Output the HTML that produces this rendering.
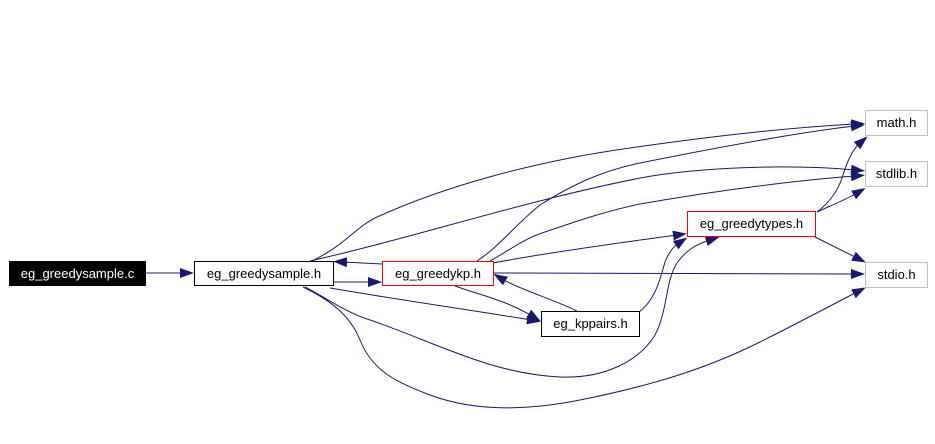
<!DOCTYPE html>
<html><head><meta charset="utf-8"><style>
html,body{margin:0;padding:0;background:#fff;}
svg{display:block;}
text{font-family:"Liberation Sans",Arial,sans-serif;font-size:13px;}
</style></head><body>
<svg width="935" height="444" viewBox="0 0 935 444" xmlns="http://www.w3.org/2000/svg">
<defs>
<marker id="a" viewBox="0 0 14 10" refX="4" refY="5" markerWidth="14" markerHeight="10" markerUnits="userSpaceOnUse" orient="auto">
<path d="M0,0 L14,5 L0,10 z" fill="#191970"/>
</marker>
</defs>
<rect width="935" height="444" fill="#fff"/>
<g fill="none" stroke="#191970" stroke-width="1" marker-end="url(#a)">
<path d="M146,273 L184,273"/>
<path d="M333,282 L372,282"/>
<path d="M382,264 L343,262"/>
<path d="M312,261 C345,245 355,228 375,218 C440,188 530,162 630,148 C720,135 800,127 855,124"/>
<path d="M310,261 C420,236 520,202 640,178 C700,167 790,164 855,170"/>
<path d="M477,261 C500,246 515,225 540,205 C575,183 605,170 640,163 C720,147 800,132 855,126"/>
<path d="M490,261 C510,250 525,238 545,232 C580,220 610,210 640,204 C720,190 800,180 855,176"/>
<path d="M493,263 C540,254 610,244 677,235"/>
<path d="M493,273 L855,274"/>
<path d="M577,311 C555,300 519,289 502,279"/>
<path d="M455,286 C480,295 505,300 532,316"/>
<path d="M330,288 C400,300 470,310 531,320"/>
<path d="M639,312 C655,300 660,280 665,262 C669,252 673,247 679,243"/>
<path d="M305,287 C330,300 345,312 370,320 C430,340 490,374 560,377 C605,379 640,360 655,335 C668,310 665,282 677,263 C686,250 697,244 710,240"/>
<path d="M303,287 C330,300 350,315 360,340 C372,370 395,382 430,395 C470,410 520,412 580,400 C640,388 700,372 760,342 C800,322 830,306 857,292"/>
<path d="M817,212 C830,202 838,190 842,178 C847,162 852,150 860,143"/>
<path d="M817,212 C830,206 845,200 857,193"/>
<path d="M815,237 L857,258"/>
</g>
<g stroke-width="1">
<rect x="9.5" y="261.5" width="136" height="24" fill="#000" stroke="#000"/>
<rect x="194.5" y="261.5" width="139" height="24" fill="#fff" stroke="#000"/>
<rect x="382.5" y="261.5" width="111" height="24" fill="#fff" stroke="#ff0000"/>
<rect x="541.5" y="311.5" width="98" height="25" fill="#fff" stroke="#000"/>
<rect x="687.5" y="211.5" width="128" height="25" fill="#fff" stroke="#ff0000"/>
<rect x="865.5" y="110.5" width="62" height="25" fill="#fff" stroke="#bfbfbf"/>
<rect x="865.5" y="161.5" width="62" height="25" fill="#fff" stroke="#bfbfbf"/>
<rect x="865.5" y="262.5" width="62" height="25" fill="#fff" stroke="#bfbfbf"/>
</g>
<g text-anchor="middle" fill="#000">
<text x="77.5" y="278" fill="#fff">eg_greedysample.c</text>
<text x="264" y="278">eg_greedysample.h</text>
<text x="438" y="278">eg_greedykp.h</text>
<text x="590.5" y="328">eg_kppairs.h</text>
<text x="751.5" y="228">eg_greedytypes.h</text>
<text x="896.5" y="127">math.h</text>
<text x="896.5" y="178">stdlib.h</text>
<text x="896.5" y="279">stdio.h</text>
</g>
</svg>
</body></html>
